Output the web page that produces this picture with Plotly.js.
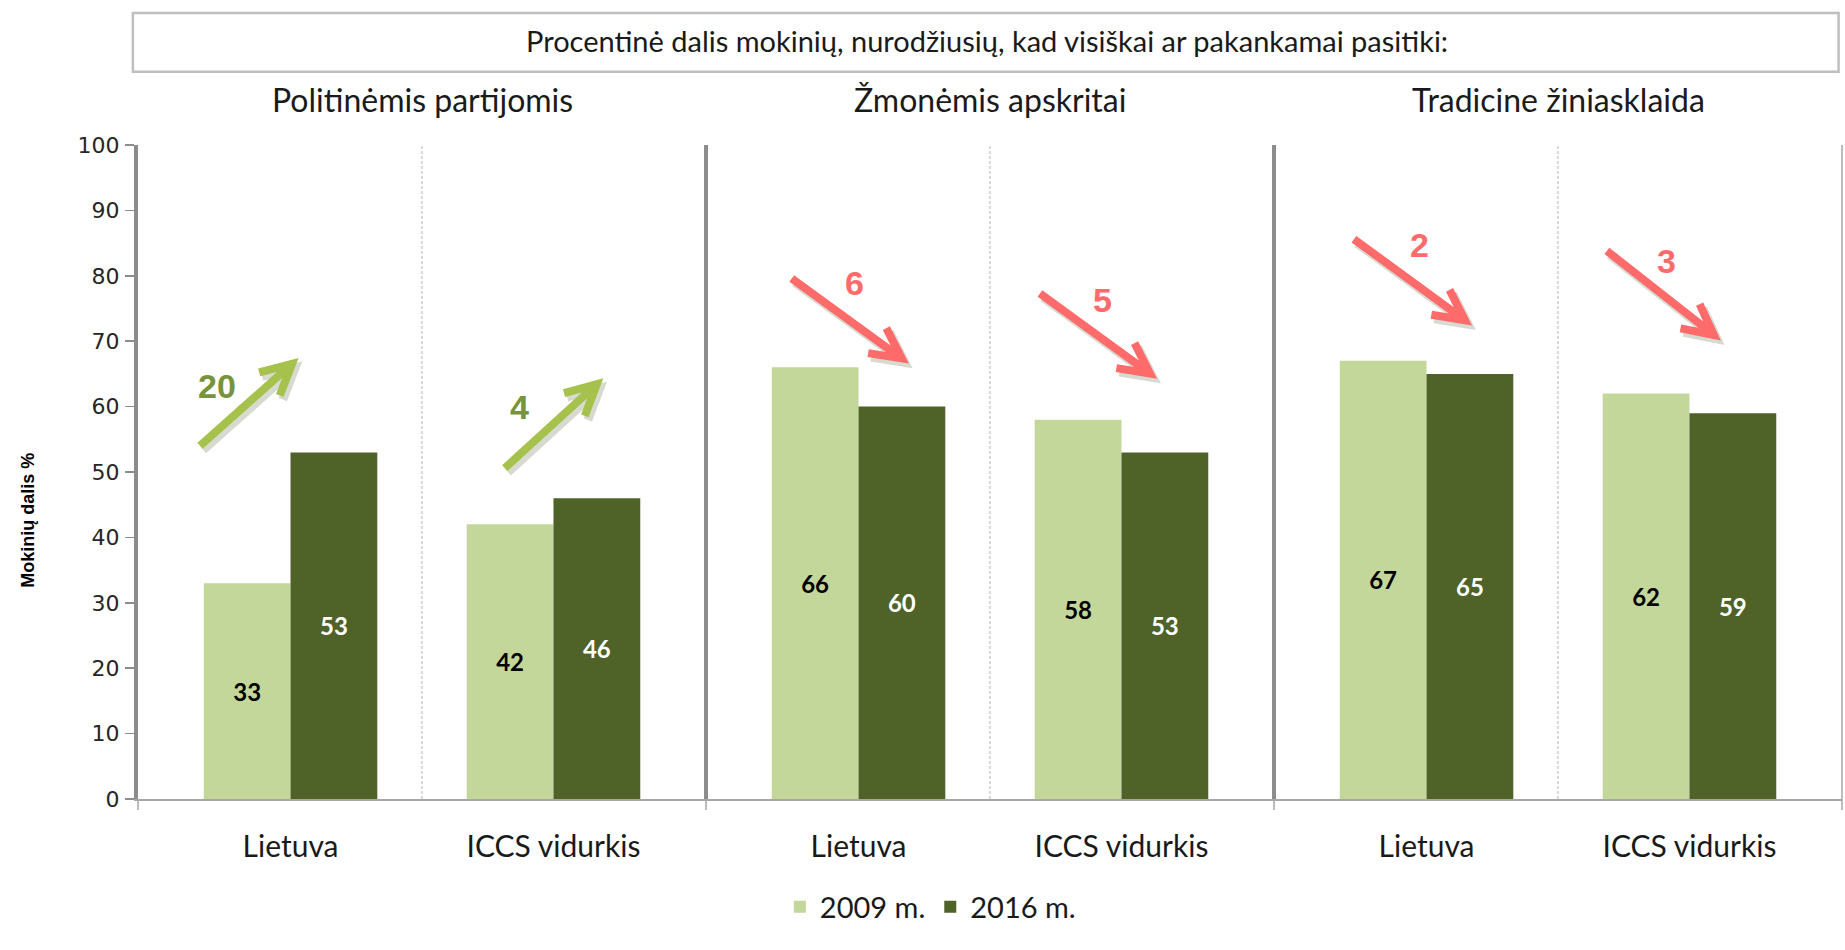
<!DOCTYPE html>
<html>
<head>
<meta charset="utf-8">
<script src="https://cdn.plot.ly/plotly-3.0.1.min.js"></script>
<style>
  html, body { margin: 0; padding: 0; background: #fff; }
  #chart { width: 1845px; height: 950px; }
</style>
</head>
<body>
<div id="chart"></div>
<script>
// data
var panels = ['Politinėmis partijomis', 'Žmonėmis apskritai', 'Tradicine žiniasklaida'];
var groups = ['Lietuva', 'ICCS vidurkis'];
var years = ['2009 m.', '2016 m.'];
var values2009 = [[33, 42], [66, 58], [67, 62]];
var values2016 = [[53, 46], [60, 53], [65, 59]];
var changes = [[20, 4], [6, 5], [2, 3]];
var rising = [true, false, false];

// where the change arrows / numbers sit (axis units), and arrow vector in px
var arrowTail = [[[-0.344, 54.0], [0.815, 50.6]], [[-0.254, 79.6], [0.690, 77.3]], [[-0.276, 85.6], [0.686, 83.8]]];
var arrowVec = [[[92, 82], [92, 84]], [[110, -80], [110, -80]], [[111, -81], [107, -84]]];
var changePos = [[[-0.281, 63.2], [0.872, 59.9]], [[-0.016, 78.9], [0.928, 76.3]], [[-0.025, 84.7], [0.914, 82.3]]];

var lightGreen = '#C4D79B';
var darkGreen = '#4F6228';
var axisGrey = '#8c8c8c';

var xrefs = ['x', 'x2', 'x3'];
var data = [];
for (var p = 0; p < 3; p++) {
    data.push({
        type: 'bar', x: groups, y: values2009[p], name: years[0],
        xaxis: xrefs[p], yaxis: 'y', legendgroup: 'a', showlegend: p === 0,
        marker: {color: lightGreen},
        text: values2009[p], textposition: 'inside', insidetextanchor: 'middle',
        textangle: 0, constraintext: 'none',
        textfont: {family: 'Lato', size: 24, weight: 'bold', color: '#000'},
        hoverinfo: 'none'
    });
    data.push({
        type: 'bar', x: groups, y: values2016[p], name: years[1],
        xaxis: xrefs[p], yaxis: 'y', legendgroup: 'b', showlegend: p === 0,
        marker: {color: darkGreen},
        text: values2016[p], textposition: 'inside', insidetextanchor: 'middle',
        textangle: 0, constraintext: 'none',
        textfont: {family: 'Lato', size: 24, weight: 'bold', color: '#fff'},
        hoverinfo: 'none'
    });
}

function fmt(v) { return v.toFixed(1); }

// arrow drawn in pixels, anchored at its tail in data units
function arrow(xref, tail, vec, color, dxs, dys) {
    var dx = vec[0], dy = vec[1];
    var len = Math.sqrt(dx * dx + dy * dy);
    var bx = -dx / len, by = -dy / len;
    var head = 34, ang = 27 * Math.PI / 180;
    var a1x = dx + head * (bx * Math.cos(ang) - by * Math.sin(ang));
    var a1y = dy + head * (bx * Math.sin(ang) + by * Math.cos(ang));
    var a2x = dx + head * (bx * Math.cos(-ang) - by * Math.sin(-ang));
    var a2y = dy + head * (bx * Math.sin(-ang) + by * Math.cos(-ang));
    var o = [dxs || 0, dys || 0];
    var path = 'M' + fmt(o[0]) + ',' + fmt(o[1]) + 'L' + fmt(dx + o[0]) + ',' + fmt(dy + o[1]) +
        'M' + fmt(a1x + o[0]) + ',' + fmt(a1y + o[1]) + 'L' + fmt(dx + o[0]) + ',' + fmt(dy + o[1]) +
        'L' + fmt(a2x + o[0]) + ',' + fmt(a2y + o[1]);
    return {
        type: 'path', xref: xref, yref: 'y', xsizemode: 'pixel', ysizemode: 'pixel',
        xanchor: tail[0], yanchor: tail[1], path: path,
        line: {color: color, width: 8}, layer: 'above'
    };
}

var shapes = [];
// title box
shapes.push({type: 'rect', xref: 'paper', yref: 'paper', x0: -0.003, x1: 0.998, y0: 1.112, y1: 1.202,
    line: {color: '#bfbfbf', width: 2.5}});
// panel dividers and right border
[1 / 3, 2 / 3].forEach(function (x) {
    shapes.push({type: 'line', xref: 'paper', yref: 'paper', x0: x, x1: x, y0: 0, y1: 1,
        line: {color: axisGrey, width: 4}});
});
shapes.push({type: 'line', xref: 'paper', yref: 'paper', x0: 1, x1: 1, y0: 0, y1: 1,
    line: {color: '#a6a6a6', width: 1.5}});
// small ticks below the x axis at the panel borders
[0, 1 / 3, 2 / 3, 1].forEach(function (x) {
    shapes.push({type: 'line', xref: 'paper', yref: 'paper', x0: x, x1: x, y0: -0.017, y1: 0,
        line: {color: '#a6a6a6', width: 1.5}});
});
// dashed lines between the two groups of each panel
xrefs.forEach(function (xr) {
    shapes.push({type: 'line', xref: xr, yref: 'paper', x0: 0.5, x1: 0.5, y0: 0, y1: 1,
        line: {color: '#b4b4b4', width: 1, dash: '3px,2px'}});
});

var annotations = [];
// y axis title, sits a bit below the axis middle like the original
annotations.push({
    xref: 'paper', yref: 'paper', x: -0.0646, y: 0.427, xanchor: 'center', yanchor: 'middle',
    text: 'Mokinių dalis %', textangle: -90, showarrow: false,
    font: {family: 'Liberation Sans', size: 18, weight: 'bold', color: '#000'}
});
for (var p = 0; p < 3; p++) {
    annotations.push({
        xref: 'paper', yref: 'paper', x: (p + 0.5) / 3, y: 1.07, xanchor: 'center', yanchor: 'middle',
        text: panels[p], showarrow: false, font: {family: 'Lato', size: 32, color: '#1a1a1a'}
    });
    var col = rising[p] ? '#A6C24C' : '#FF6B6B';
    var txtCol = rising[p] ? '#77933C' : '#FF6B6B';
    for (var i = 0; i < 2; i++) {
        // soft shadow then arrow
        var sh = arrow(xrefs[p], arrowTail[p][i], arrowVec[p][i], 'rgba(70,85,40,0.22)', 3, -4);
        sh.line.width = 9;
        shapes.push(sh);
        shapes.push(arrow(xrefs[p], arrowTail[p][i], arrowVec[p][i], col));
        annotations.push({
            xref: xrefs[p], yref: 'y', x: changePos[p][i][0], y: changePos[p][i][1],
            xanchor: 'center', yanchor: 'middle',
            text: String(changes[p][i]), showarrow: false,
            font: {family: 'Liberation Sans', size: 34, weight: 'bold', color: txtCol}
        });
    }
}

var xaxisBase = {
    range: [-0.58, 1.58], showline: true, linecolor: '#a6a6a6', linewidth: 2,
    ticks: '', showgrid: false, zeroline: false, anchor: 'y',
    tickfont: {family: 'Lato', size: 30, color: '#1a1a1a'}, ticklabelstandoff: 20
};

var layout = {
    width: 1845, height: 950,
    margin: {l: 138, r: 3, t: 145, b: 151},
    paper_bgcolor: '#fff', plot_bgcolor: '#fff',
    font: {family: 'Lato', color: '#1a1a1a'},
    barmode: 'group', bargap: 0.34, bargroupgap: 0,
    title: {
        text: 'Procentinė dalis mokinių, nurodžiusių, kad visiškai ar pakankamai pasitiki:',
        x: 0.535, xanchor: 'center', xref: 'container',
        y: 1 - 42 / 950, yanchor: 'middle', yref: 'container',
        font: {family: 'Lato', size: 29, color: '#1a1a1a'}
    },
    xaxis: Object.assign({}, xaxisBase, {domain: [0, 1 / 3]}),
    xaxis2: Object.assign({}, xaxisBase, {domain: [1 / 3, 2 / 3]}),
    xaxis3: Object.assign({}, xaxisBase, {domain: [2 / 3, 1]}),
    yaxis: {
        range: [0, 100], dtick: 10, ticks: 'outside', ticklen: 9, tickwidth: 1.5, tickcolor: axisGrey,
        showline: true, linewidth: 4, linecolor: axisGrey, showgrid: false, zeroline: false,
        tickfont: {family: 'DejaVu Sans', size: 22, color: '#262626'}, ticklabelstandoff: 1
    },
    legend: {
        orientation: 'h', x: 0.465, xanchor: 'center', y: -0.165, yanchor: 'middle',
        font: {family: 'Lato', size: 29, color: '#1a1a1a'}, traceorder: 'normal'
    },
    shapes: shapes,
    annotations: annotations
};

Plotly.newPlot('chart', data, layout, {staticPlot: true});
</script>
</body>
</html>
